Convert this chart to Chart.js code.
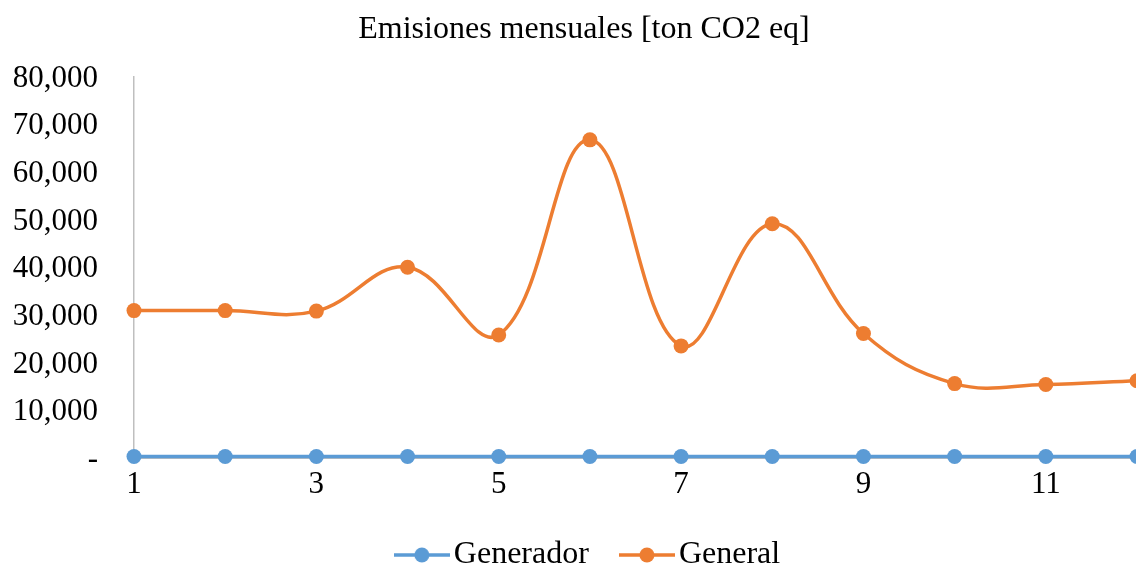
<!DOCTYPE html>
<html>
<head>
<meta charset="utf-8">
<script src="https://cdn.jsdelivr.net/npm/chart.js@4.4.1/dist/chart.umd.min.js"></script>
<style>
html,body{margin:0;padding:0;background:#fff;overflow:hidden;width:1136px;height:565px;}
#wrap{width:1168px;height:565px;}
canvas{display:block;}
</style>
</head>
<body>
<div id="wrap"><canvas id="c" width="1168" height="565"></canvas></div>
<script>
const categories = ['1','2','3','4','5','6','7','8','9','10','11','12'];
const generador = [300, 300, 300, 300, 300, 300, 300, 300, 300, 300, 300, 300];
const general = [30900, 30900, 30800, 40000, 25800, 66700, 23500, 49100, 26100, 15600, 15400, 16200];
const yTickValues = [0, 10000, 20000, 30000, 40000, 50000, 60000, 70000, 80000];
const seriesNames = ['Generador', 'General'];
const seriesColors = ['#5B9BD5', '#ED7D31'];

const FONT = "'Liberation Serif', 'Times New Roman', serif";

function legendIcon(color) {
  const cv = document.createElement('canvas');
  cv.width = 56; cv.height = 18;
  const g = cv.getContext('2d');
  g.strokeStyle = color; g.lineWidth = 3.5;
  g.beginPath(); g.moveTo(0, 9); g.lineTo(56, 9); g.stroke();
  g.fillStyle = color;
  g.beginPath(); g.arc(28, 9, 7.5, 0, Math.PI * 2); g.fill();
  return cv;
}
const icons = seriesColors.map(legendIcon);

const noLabelClip = (s) => { s._computeLabelArea = () => undefined; };

const legendShift = {
  id: 'legendShift',
  afterLayout(chart) {
    if (chart.legend) { chart.legend.left += 9; chart.legend.right += 9; }
  }
};

new Chart(document.getElementById('c'), {
  type: 'line',
  data: {
    labels: categories,
    datasets: [
      { label: seriesNames[0], data: generador, borderColor: seriesColors[0], backgroundColor: seriesColors[0],
        borderWidth: 3.5, pointRadius: 7.5, pointHoverRadius: 7.5, pointBorderWidth: 0, tension: 0.4, clip: false },
      { label: seriesNames[1], data: general, borderColor: seriesColors[1], backgroundColor: seriesColors[1],
        borderWidth: 3.5, pointRadius: 7.5, pointHoverRadius: 7.5, pointBorderWidth: 0, tension: 0.4, clip: false }
    ]
  },
  plugins: [legendShift],
  options: {
    responsive: false,
    animation: false,
    layout: { padding: { left: 31, right: 31, top: 0, bottom: -16 } },
    plugins: {
      tooltip: { enabled: false },
      title: {
        display: true,
        text: 'Emisiones mensuales [ton CO2 eq]',
        color: '#000',
        font: { family: FONT, size: 32, weight: 'normal' },
        padding: { top: 10, bottom: 28 }
      },
      legend: {
        position: 'bottom',
        labels: {
          color: '#000',
          font: { family: FONT, size: 32 },
          usePointStyle: true,
          pointStyleWidth: 32,
          padding: 42,
          generateLabels: (chart) => chart.data.datasets.map((ds, i) => ({
            text: ds.label,
            fillStyle: ds.borderColor,
            strokeStyle: ds.borderColor,
            pointStyle: icons[i],
            datasetIndex: i,
            hidden: false,
            lineWidth: 0
          }))
        }
      }
    },
    scales: {
      x: {
        grid: { display: false, drawTicks: false },
        border: { display: true, color: '#BFBFBF', width: 1 },
        ticks: {
          color: '#000',
          font: { family: FONT, size: 31 },
          autoSkip: false, maxRotation: 0, padding: 8,
          callback: (v, i) => (i % 2 === 0 ? categories[i] : '')
        },
        afterFit: (s) => { s.height = 39; noLabelClip(s); }
      },
      y: {
        min: 0, max: 80000,
        grid: { display: false, drawTicks: false },
        border: { display: true, color: '#BFBFBF', width: 1.5 },
        afterBuildTicks: (s) => { s.ticks = yTickValues.map(v => ({ value: v })); },
        ticks: {
          color: '#000',
          font: { family: FONT, size: 31 },
          padding: 36,
          labelOffset: 2,
          callback: (v) => (v === 0 ? '-' : v.toLocaleString('en-US'))
        },
        afterFit: (s) => { s.width = 103; noLabelClip(s); }
      }
    }
  }
});
</script>
</body>
</html>
